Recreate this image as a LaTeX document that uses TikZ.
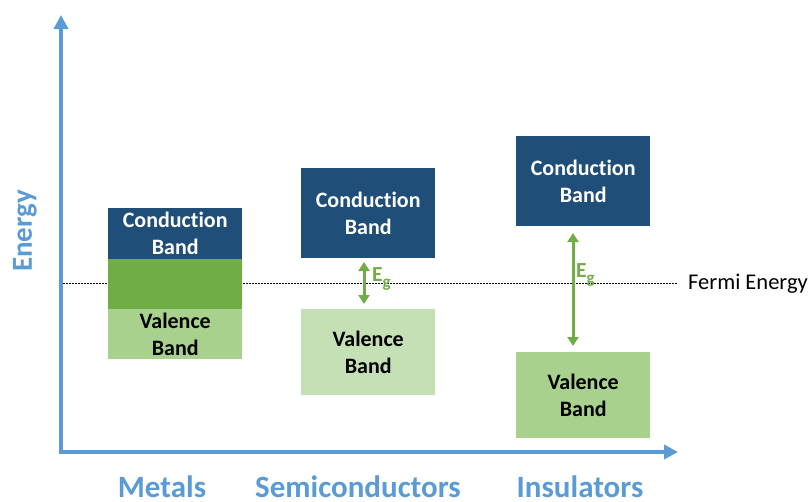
\documentclass[tikz,border=0pt]{standalone}
\usepackage{fontspec}
\setmainfont[Ligatures=NoCommon]{Carlito}
\usetikzlibrary{arrows.meta}
\definecolor{cbblue}{HTML}{1F4E79}
\definecolor{axblue}{HTML}{5B9BD5}
\definecolor{dgreen}{HTML}{70AD47}
\definecolor{mgreen}{HTML}{A9D18E}
\definecolor{lgreen}{HTML}{C5E0B4}
\tikzset{
  band/.style={minimum width=134pt, inner sep=0pt, align=center, font=\fontsize{22}{27}\selectfont\bfseries},
  cband/.style={band, fill=cbblue, text=white},
  vband/.style={band, text=black},
  axis/.style={draw=axblue, line width=3.5pt, -{Triangle[length=14pt,width=14pt]}},
  gap/.style={draw=dgreen, line width=3pt, {Triangle[length=9pt,width=11pt]}-{Triangle[length=9pt,width=11pt]}},
  cat/.style={text=axblue, font=\fontsize{31}{34}\selectfont\bfseries},
  eg/.style={text=dgreen, font=\fontsize{21.5}{22}\selectfont\bfseries, inner sep=0pt}
}
\newcommand{\egtext}{E\raisebox{-0.3em}{\fontsize{17}{17}\selectfont g}}
\begin{document}
\begin{tikzpicture}[x=1pt,y=-1pt]
\useasboundingbox (0,0) rectangle (810,501);
% Fermi line
\coordinate (f1) at (60,283);
\coordinate (f2) at (677,283);
\draw[dash pattern=on 1.5pt off 1.5pt, line width=0.7pt] (f1) -- (f2);
% Metals
\node[cband, minimum height=51pt, anchor=north west] (mc) at (108,208) {Conduction\\Band};
\node[band, fill=dgreen, minimum height=50pt, anchor=north west] (mo) at (108,259) {};
\node[vband, fill=mgreen, minimum height=50pt, anchor=north west] (mv) at (108,309) {Valence\\Band};
% Semiconductors
\node[cband, minimum height=90pt, anchor=north west] (sc) at (301,168) {Conduction\\Band};
\node[vband, fill=lgreen, minimum height=86pt, anchor=north west] (sv) at (301,309) {Valence\\Band};
% Insulators
\node[cband, minimum height=90pt, anchor=north west] (ic) at (516,136) {Conduction\\Band};
\node[vband, fill=mgreen, minimum height=86pt, anchor=north west] (iv) at (516,352) {Valence\\Band};
% gap arrows
\coordinate (sa1) at (364,262);
\coordinate (sa2) at (364,304);
\draw[gap] (sa1) -- (sa2);
\node[eg, anchor=base west] (seg) at (372,281.5) {\egtext};
\coordinate (ia1) at (573,233);
\coordinate (ia2) at (573,346);
\draw[gap] (ia1) -- (ia2);
\node[eg, anchor=base west] (ieg) at (576,277.5) {\egtext};
% axes
\coordinate (o) at (61,452);
\coordinate (yt) at (61,15);
\coordinate (xt) at (678,452);
\draw[axis] (o) -- (yt);
\draw[axis] (59.25,452) -- (xt);
% labels
\node[anchor=west, font=\fontsize{22.5}{24}\selectfont, inner sep=0pt] (fe) at (688,284) {Fermi Energy};
\node[cat, rotate=90, font=\fontsize{29}{32}\selectfont\bfseries] (en) at (25,231) {Energy};
\node[cat, anchor=base] (lm) at (162,497) {Metals};
\node[cat, anchor=base] (ls) at (358,497) {Semiconductors};
\node[cat, anchor=base] (li) at (580,497) {Insulators};
\end{tikzpicture}
\end{document}
